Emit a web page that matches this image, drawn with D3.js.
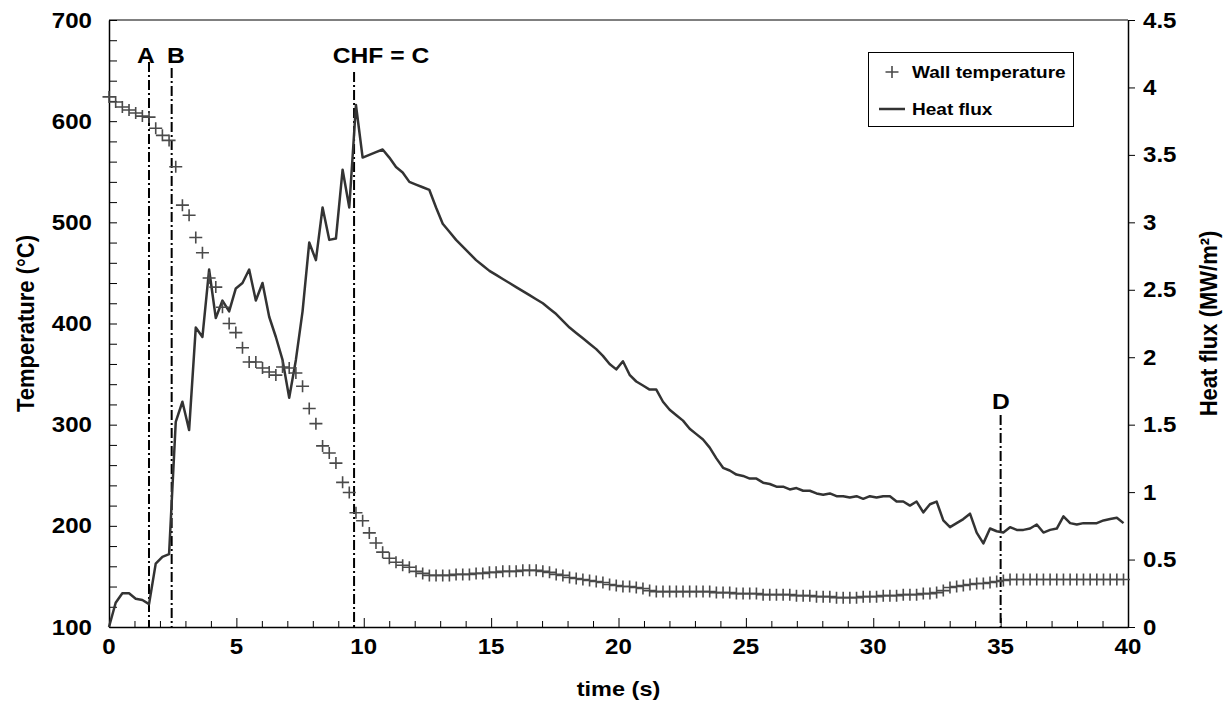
<!DOCTYPE html>
<html><head><meta charset="utf-8">
<script src="https://cdn.jsdelivr.net/npm/d3@7"></script>
<style>
body{margin:0;background:#fff}
svg{display:block}
text{font-family:"Liberation Sans",Arial,Helvetica,sans-serif;font-weight:bold;fill:#000}
</style>
</head><body>
<svg id="chart" width="1231" height="722"></svg>
<script>
// ---------- data ----------
const sampleInterval = 0.262; // s, acquisition step of both series
const wallTemperature = [
 624,619,614,611,608,605,604,593,586,581,
 555,517,507,485,470,445,436,416,400,391,
 376,362,362,356,352,349,357,356,351,338,
 316,301,279,272,262,243,233,213,205,193,
 183,174,168,164,161,159,155,153,151,151,
 151,151,152,152,152,153,153,154,154,155,
 155,155,156,156,156,155,154,152,151,149,
 148,147,146,145,144,142,141,140,140,139,
 138,136,135,135,135,135,135,135,135,135,
 135,134,134,134,133,133,133,133,132,132,
 132,132,132,131,131,131,130,130,130,129,
 129,129,129,130,130,130,131,131,131,132,
 132,132,133,133,134,136,139,140,141,142,
 143,143,144,145,146,147,147,147,147,147,
 147,147,147,147,147,147,147,147,147,147,
 147,147,147
];
const heatFlux = [
 0.00,0.18,0.25,0.25,0.21,0.20,0.17,0.47,0.52,0.54,
 1.52,1.67,1.46,2.22,2.15,2.65,2.29,2.42,2.34,2.51,
 2.55,2.65,2.42,2.55,2.30,2.15,1.98,1.70,1.98,2.34,
 2.85,2.72,3.11,2.87,2.88,3.39,3.11,3.87,3.48,3.50,
 3.52,3.54,3.48,3.41,3.37,3.30,3.28,3.26,3.24,3.11,
 2.99,2.93,2.87,2.82,2.77,2.72,2.68,2.64,2.61,2.58,
 2.55,2.52,2.49,2.46,2.43,2.40,2.36,2.32,2.27,2.22,
 2.18,2.14,2.10,2.06,2.01,1.95,1.91,1.97,1.87,1.82,
 1.79,1.76,1.76,1.67,1.61,1.57,1.53,1.47,1.43,1.39,
 1.33,1.25,1.18,1.16,1.13,1.12,1.10,1.10,1.07,1.06,
 1.04,1.04,1.02,1.03,1.01,1.01,0.99,0.98,0.99,0.97,
 0.97,0.96,0.97,0.95,0.97,0.96,0.97,0.97,0.93,0.93,
 0.90,0.93,0.85,0.91,0.93,0.79,0.74,0.77,0.80,0.84,
 0.70,0.62,0.73,0.71,0.70,0.74,0.72,0.72,0.73,0.76,
 0.70,0.72,0.73,0.82,0.77,0.76,0.77,0.77,0.77,0.79,
 0.80,0.81,0.77
];
const timeTicks = [0,5,10,15,20,25,30,35,40];
const temperatureTicks = [100,200,300,400,500,600,700];
const heatFluxTicks = [0,0.5,1,1.5,2,2.5,3,3.5,4,4.5];
const eventLabels = ["A","B","CHF = C","D"];
const eventTimes = [1.57,2.46,9.62,35.0];
const seriesNames = ["Wall temperature","Heat flux"];

// ---------- layout ----------
const svg = d3.select("#chart");
const L = 109, R = 1128, T = 20, B = 627;
const SX = 1.12; // horizontal glyph stretch of the original
const x = d3.scaleLinear().domain([0,40]).range([L,R]);
const yT = d3.scaleLinear().domain([100,700]).range([B,T]);
const yQ = d3.scaleLinear().domain([0,4.5]).range([B,T]);
const tAt = i => i*sampleInterval;

function stext(g, str, px, py, size, anchor){
  return g.append("text").attr("transform",`translate(${px},${py}) scale(${SX},1)`)
    .attr("text-anchor",anchor||"middle").attr("dominant-baseline","central")
    .style("font-size",size+"px").text(str);
}

// frame top
svg.append("line").attr("x1",L).attr("x2",R).attr("y1",T).attr("y2",T).attr("stroke","#000").attr("stroke-width",1);

// x axis
const gx = svg.append("g").attr("transform",`translate(0,${B})`);
gx.call(d3.axisBottom(x).tickValues(d3.range(0,41,1)).tickSizeInner(-6).tickSizeOuter(0).tickFormat(""));
gx.selectAll(".tick line").filter(d=>d%5===0).attr("y2",-9);
gx.select(".domain").attr("stroke","#000").attr("stroke-width",1.5);
timeTicks.forEach(v=>stext(svg,String(v),x(v),646,21.5));

// left axis
const gl = svg.append("g").attr("transform",`translate(${L},0)`);
gl.call(d3.axisLeft(yT).tickValues(d3.range(100,701,20)).tickSizeInner(-8).tickSizeOuter(0).tickFormat(""));
gl.select(".domain").attr("stroke","#000").attr("stroke-width",1.5);
temperatureTicks.forEach(v=>stext(svg,String(v),L-17,yT(v),21.5,"end"));

// right axis
const gr = svg.append("g").attr("transform",`translate(${R},0)`);
gr.call(d3.axisRight(yQ).tickValues(heatFluxTicks).tickSizeInner(7).tickSizeOuter(0).tickFormat(""));
gr.select(".domain").attr("stroke","#000").attr("stroke-width",1.5);
heatFluxTicks.forEach(v=>stext(svg,String(v),R+15,yQ(v),21.5,"start"));

// axis titles
stext(svg,"time (s)",(L+R)/2,689,21);
svg.append("text").attr("transform",`translate(26,${(T+B)/2}) rotate(-90) scale(1,${SX})`)
  .attr("text-anchor","middle").attr("dominant-baseline","central").style("font-size","22px").text("Temperature (°C)");
svg.append("text").attr("transform",`translate(1209,${(T+B)/2}) rotate(-90) scale(1,${SX})`)
  .attr("text-anchor","middle").attr("dominant-baseline","central").style("font-size","22px").text("Heat flux (MW/m²)");

// event lines
const lineTops = [62,68,72,415];
const labelPos = [[146,55],[176,55],[381,55],[1001,401]];
eventTimes.forEach((t,k)=>{
  svg.append("line").attr("x1",x(t)).attr("x2",x(t)).attr("y1",lineTops[k]).attr("y2",B)
    .attr("stroke","#000").attr("stroke-width",2).attr("stroke-dasharray","10,3,2,3");
  stext(svg,eventLabels[k],labelPos[k][0],labelPos[k][1],22);
});

// heat flux line
svg.append("path").datum(heatFlux)
  .attr("d",d3.line().x((d,i)=>x(tAt(i))).y(d=>yQ(d)))
  .attr("fill","none").attr("stroke","#333").attr("stroke-width",2.5).attr("stroke-linejoin","round");

// temperature markers
const plus = (cx,cy)=>`M${cx-6.5},${cy}H${cx+6.5}M${cx},${cy-6}V${cy+6}`;
svg.append("g").selectAll("path").data(wallTemperature).join("path")
  .attr("d",(d,i)=>plus(x(tAt(i)),yT(d)))
  .attr("stroke","#4a4a4a").attr("stroke-width",1.6).attr("fill","none");

// legend
const lg = svg.append("g");
lg.append("rect").attr("x",868.5).attr("y",52.5).attr("width",205).attr("height",74)
  .attr("fill","#fff").attr("stroke","#000").attr("stroke-width",1);
lg.append("path").attr("d",plus(892,72)).attr("stroke","#4a4a4a").attr("stroke-width",1.6);
stext(lg,seriesNames[0],912,72,17,"start");
lg.append("line").attr("x1",879).attr("x2",905).attr("y1",109).attr("y2",109).attr("stroke","#333").attr("stroke-width",2.5);
stext(lg,seriesNames[1],912,109,17,"start");
</script>
</body></html>
